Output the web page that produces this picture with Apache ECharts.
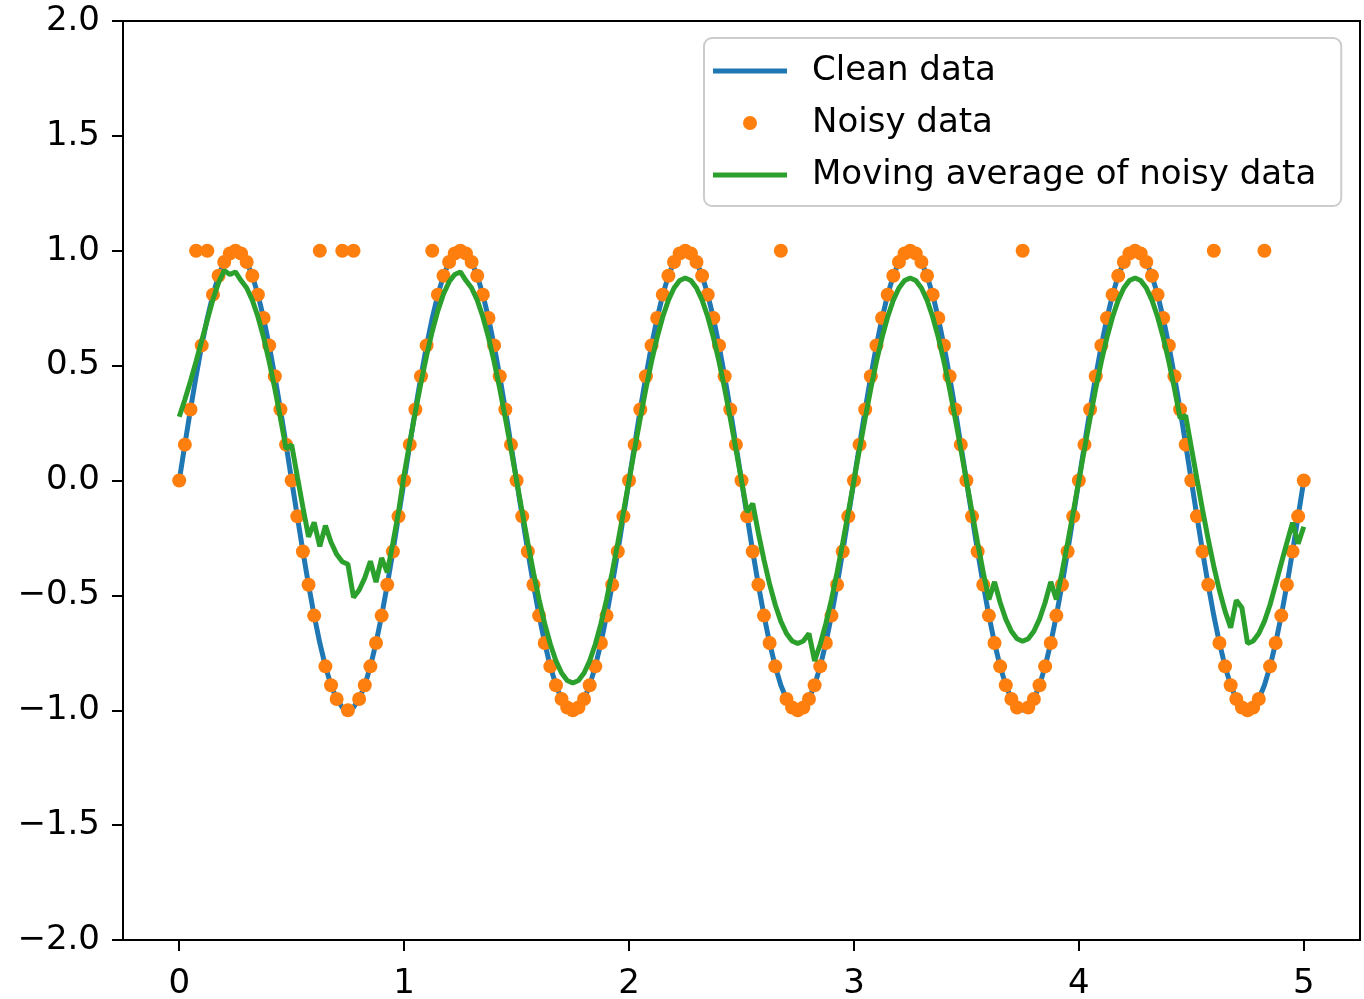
<!DOCTYPE html>
<html>
<head>
<meta charset="utf-8">
<script src="https://cdn.jsdelivr.net/npm/echarts@6/dist/echarts.min.js"></script>
<style>
html,body{margin:0;padding:0;background:#fff;}
#chart{width:1364px;height:999px;}
</style>
</head>
<body>
<div id="chart"></div>
<script>
const xValues = [
0,0.025,0.05,0.075,0.1,0.125,0.15,0.175,0.2,0.225,0.25,0.275,0.3,0.325,0.35,0.375,0.4,0.425,0.45,0.475,
0.5,0.525,0.55,0.575,0.6,0.625,0.65,0.675,0.7,0.725,0.75,0.775,0.8,0.825,0.85,0.875,0.9,0.925,0.95,0.975,
1,1.025,1.05,1.075,1.1,1.125,1.15,1.175,1.2,1.225,1.25,1.275,1.3,1.325,1.35,1.375,1.4,1.425,1.45,1.475,
1.5,1.525,1.55,1.575,1.6,1.625,1.65,1.675,1.7,1.725,1.75,1.775,1.8,1.825,1.85,1.875,1.9,1.925,1.95,1.975,
2,2.025,2.05,2.075,2.1,2.125,2.15,2.175,2.2,2.225,2.25,2.275,2.3,2.325,2.35,2.375,2.4,2.425,2.45,2.475,
2.5,2.525,2.55,2.575,2.6,2.625,2.65,2.675,2.7,2.725,2.75,2.775,2.8,2.825,2.85,2.875,2.9,2.925,2.95,2.975,
3,3.025,3.05,3.075,3.1,3.125,3.15,3.175,3.2,3.225,3.25,3.275,3.3,3.325,3.35,3.375,3.4,3.425,3.45,3.475,
3.5,3.525,3.55,3.575,3.6,3.625,3.65,3.675,3.7,3.725,3.75,3.775,3.8,3.825,3.85,3.875,3.9,3.925,3.95,3.975,
4,4.025,4.05,4.075,4.1,4.125,4.15,4.175,4.2,4.225,4.25,4.275,4.3,4.325,4.35,4.375,4.4,4.425,4.45,4.475,
4.5,4.525,4.55,4.575,4.6,4.625,4.65,4.675,4.7,4.725,4.75,4.775,4.8,4.825,4.85,4.875,4.9,4.925,4.95,4.975,
5];

const cleanData = [
0,0.156,0.309,0.454,0.588,0.707,0.809,0.891,0.951,0.988,1,0.988,0.951,0.891,0.809,0.707,0.588,0.454,0.309,0.156,
0,-0.156,-0.309,-0.454,-0.588,-0.707,-0.809,-0.891,-0.951,-0.988,-1,-0.988,-0.951,-0.891,-0.809,-0.707,-0.588,-0.454,-0.309,-0.156,
0,0.156,0.309,0.454,0.588,0.707,0.809,0.891,0.951,0.988,1,0.988,0.951,0.891,0.809,0.707,0.588,0.454,0.309,0.156,
0,-0.156,-0.309,-0.454,-0.588,-0.707,-0.809,-0.891,-0.951,-0.988,-1,-0.988,-0.951,-0.891,-0.809,-0.707,-0.588,-0.454,-0.309,-0.156,
0,0.156,0.309,0.454,0.588,0.707,0.809,0.891,0.951,0.988,1,0.988,0.951,0.891,0.809,0.707,0.588,0.454,0.309,0.156,
0,-0.156,-0.309,-0.454,-0.588,-0.707,-0.809,-0.891,-0.951,-0.988,-1,-0.988,-0.951,-0.891,-0.809,-0.707,-0.588,-0.454,-0.309,-0.156,
0,0.156,0.309,0.454,0.588,0.707,0.809,0.891,0.951,0.988,1,0.988,0.951,0.891,0.809,0.707,0.588,0.454,0.309,0.156,
0,-0.156,-0.309,-0.454,-0.588,-0.707,-0.809,-0.891,-0.951,-0.988,-1,-0.988,-0.951,-0.891,-0.809,-0.707,-0.588,-0.454,-0.309,-0.156,
0,0.156,0.309,0.454,0.588,0.707,0.809,0.891,0.951,0.988,1,0.988,0.951,0.891,0.809,0.707,0.588,0.454,0.309,0.156,
0,-0.156,-0.309,-0.454,-0.588,-0.707,-0.809,-0.891,-0.951,-0.988,-1,-0.988,-0.951,-0.891,-0.809,-0.707,-0.588,-0.454,-0.309,-0.156,
0];

const noisyData = [
0,0.156,0.309,1,0.588,1,0.809,0.891,0.951,0.988,1,0.988,0.951,0.891,0.809,0.707,0.588,0.454,0.309,0.156,
0,-0.156,-0.309,-0.454,-0.588,1,-0.809,-0.891,-0.951,1,-1,1,-0.951,-0.891,-0.809,-0.707,-0.588,-0.454,-0.309,-0.156,
0,0.156,0.309,0.454,0.588,1,0.809,0.891,0.951,0.988,1,0.988,0.951,0.891,0.809,0.707,0.588,0.454,0.309,0.156,
0,-0.156,-0.309,-0.454,-0.588,-0.707,-0.809,-0.891,-0.951,-0.988,-1,-0.988,-0.951,-0.891,-0.809,-0.707,-0.588,-0.454,-0.309,-0.156,
0,0.156,0.309,0.454,0.588,0.707,0.809,0.891,0.951,0.988,1,0.988,0.951,0.891,0.809,0.707,0.588,0.454,0.309,0.156,
0,-0.156,-0.309,-0.454,-0.588,-0.707,-0.809,1,-0.951,-0.988,-1,-0.988,-0.951,-0.891,-0.809,-0.707,-0.588,-0.454,-0.309,-0.156,
0,0.156,0.309,0.454,0.588,0.707,0.809,0.891,0.951,0.988,1,0.988,0.951,0.891,0.809,0.707,0.588,0.454,0.309,0.156,
0,-0.156,-0.309,-0.454,-0.588,-0.707,-0.809,-0.891,-0.951,-0.988,1,-0.988,-0.951,-0.891,-0.809,-0.707,-0.588,-0.454,-0.309,-0.156,
0,0.156,0.309,0.454,0.588,0.707,0.809,0.891,0.951,0.988,1,0.988,0.951,0.891,0.809,0.707,0.588,0.454,0.309,0.156,
0,-0.156,-0.309,-0.454,1,-0.707,-0.809,-0.891,-0.951,-0.988,-1,-0.988,-0.951,1,-0.809,-0.707,-0.588,-0.454,-0.309,-0.156,
0];

const movingAvgData = [
0.2776,0.3511,0.4321,0.5186,0.6084,0.6992,0.789,0.8613,0.9142,0.8969,0.9077,0.8703,0.838,0.7851,0.7128,0.623,0.5179,0.4,0.2723,0.1378,
0.1552,0.0174,-0.1171,-0.2448,-0.182,-0.2871,-0.1962,-0.2685,-0.3214,-0.3537,-0.3645,-0.5089,-0.4766,-0.4237,-0.3514,-0.4423,-0.3372,-0.4,-0.2723,-0.1378,
0.0266,0.1644,0.2989,0.4266,0.5445,0.6496,0.7394,0.8117,0.8646,0.8969,0.9077,0.8703,0.838,0.7851,0.7128,0.623,0.5179,0.4,0.2723,0.1378,
0,-0.1378,-0.2723,-0.4,-0.5179,-0.623,-0.7128,-0.7851,-0.838,-0.8703,-0.8811,-0.8703,-0.838,-0.7851,-0.7128,-0.623,-0.5179,-0.4,-0.2723,-0.1378,
0,0.1378,0.2723,0.4,0.5179,0.623,0.7128,0.7851,0.838,0.8703,0.8811,0.8703,0.838,0.7851,0.7128,0.623,0.5179,0.4,0.2723,0.1378,
0,-0.1378,-0.1004,-0.2281,-0.346,-0.4511,-0.5409,-0.6132,-0.6661,-0.6984,-0.7092,-0.6984,-0.6661,-0.7851,-0.7128,-0.623,-0.5179,-0.4,-0.2723,-0.1378,
0,0.1378,0.2723,0.4,0.5179,0.623,0.7128,0.7851,0.838,0.8703,0.8811,0.8703,0.838,0.7851,0.7128,0.623,0.5179,0.4,0.2723,0.1378,
0,-0.1378,-0.2723,-0.4,-0.5179,-0.4412,-0.531,-0.6033,-0.6562,-0.6885,-0.6993,-0.6885,-0.6562,-0.6033,-0.531,-0.4412,-0.5179,-0.4,-0.2723,-0.1378,
0,0.1378,0.2723,0.4,0.5179,0.623,0.7128,0.7851,0.838,0.8703,0.8811,0.8703,0.838,0.7851,0.7128,0.623,0.5179,0.4,0.2723,0.2822,
0.1444,0.0066,-0.1279,-0.2556,-0.3735,-0.4786,-0.5684,-0.6407,-0.5217,-0.554,-0.7092,-0.6984,-0.6661,-0.6132,-0.5409,-0.4511,-0.3602,-0.2704,-0.1839,-0.2748,
-0.2013];

const xTicks = [0, 1, 2, 3, 4, 5];
const yTicks = [-2, -1.5, -1, -0.5, 0, 0.5, 1, 1.5, 2];
const seriesNames = ['Clean data', 'Noisy data', 'Moving average of noisy data'];

const FONT = 'DejaVu Sans';
const LINE_ICON = 'path://M0,0H74V5H0Z';
const zip = (ys) => xValues.map((x, i) => [x, ys[i]]);
const fmtY = (v) => (v < 0 ? '\u2212' : '') + Math.abs(v).toFixed(1);

const chart = echarts.init(document.getElementById('chart'), null, {renderer: 'canvas'});
chart.setOption({
  animation: false,
  backgroundColor: '#ffffff',
  textStyle: {fontFamily: FONT},
  grid: {
    left: 123, right: 4, top: 21, bottom: 59,
    show: true, borderColor: '#000', borderWidth: 2, backgroundColor: 'transparent',
    containLabel: false, outerBoundsMode: 'none'
  },
  xAxis: {
    type: 'value', min: -0.25, max: 5.25,
    splitLine: {show: false},
    axisLine: {show: true, onZero: false, lineStyle: {color: '#000', width: 2}},
    axisTick: {show: true, length: 11, customValues: xTicks, lineStyle: {color: '#000', width: 2}},
    axisLabel: {customValues: xTicks, color: '#000', fontSize: 34, fontFamily: FONT, margin: 27}
  },
  yAxis: {
    type: 'value', min: -2, max: 2,
    splitLine: {show: false},
    axisLine: {show: true, onZero: false, lineStyle: {color: '#000', width: 2}},
    axisTick: {show: true, length: 11, customValues: yTicks, lineStyle: {color: '#000', width: 2}},
    axisLabel: {customValues: yTicks, color: '#000', fontSize: 34, fontFamily: FONT, margin: 23,
      showMinLabel: true, showMaxLabel: true, formatter: fmtY}
  },
  legend: {
    orient: 'vertical', left: 704, top: 38,
    data: [
      {name: seriesNames[0], icon: LINE_ICON},
      {name: seriesNames[1], icon: 'circle'},
      {name: seriesNames[2], icon: LINE_ICON}
    ],
    itemWidth: 74, itemHeight: 14, itemGap: 12, symbolKeepAspect: true,
    padding: [13, 25, 11, 9],
    backgroundColor: 'rgba(255,255,255,0.8)', borderColor: '#cccccc', borderWidth: 2, borderRadius: 8,
    textStyle: {fontSize: 34, fontFamily: FONT, color: '#000', lineHeight: 40, padding: [0, 0, 0, 20]}
  },
  series: [
    {name: seriesNames[0], type: 'line', data: zip(cleanData), symbol: 'none',
      lineStyle: {color: '#1f77b4', width: 5}, itemStyle: {color: '#1f77b4'}, z: 2},
    {name: seriesNames[1], type: 'scatter', data: zip(noisyData), symbol: 'circle', symbolSize: 14,
      itemStyle: {color: '#ff7f0e', opacity: 1}, z: 3},
    {name: seriesNames[2], type: 'line', data: zip(movingAvgData), symbol: 'none',
      lineStyle: {color: '#2ca02c', width: 5}, itemStyle: {color: '#2ca02c'}, z: 4}
  ]
});
</script>
</body>
</html>
